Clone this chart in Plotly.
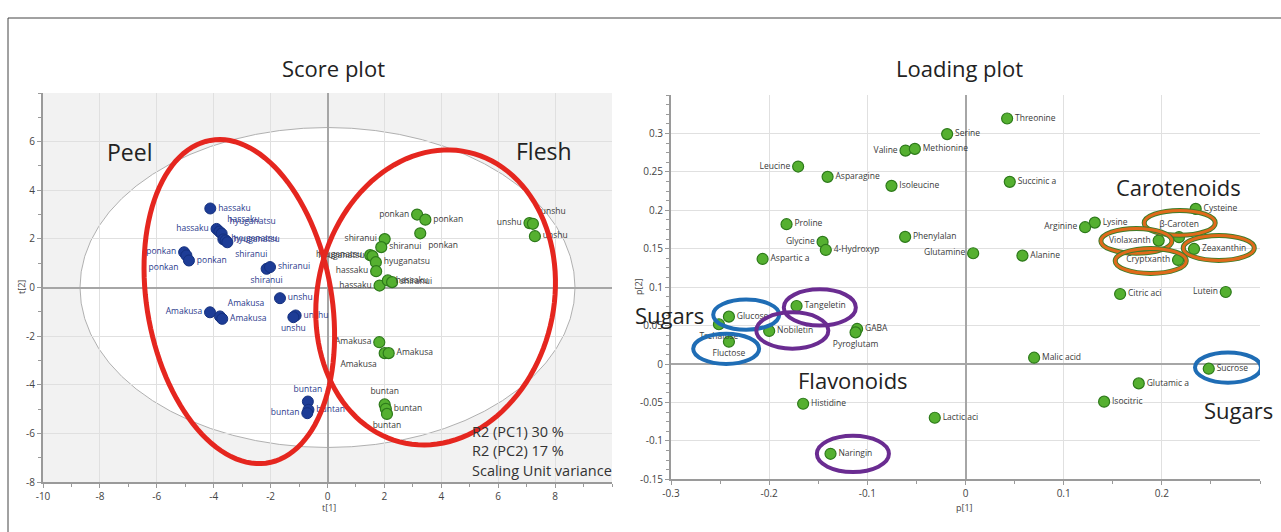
import numpy as np
import plotly.graph_objects as go

W, H = 1281, 532
FONT = "Open Sans"

# ---- score plot, peel samples (blue) ----
peel_names = ["hassaku", "hassaku", "hassaku", "hyuganatsu", "hyuganatsu", "hyuganatsu",
              "shiranui", "shiranui", "shiranui", "ponkan", "ponkan", "ponkan",
              "Amakusa", "Amakusa", "Amakusa", "unshu", "unshu", "unshu",
              "buntan", "buntan", "buntan"]
peel_t1 = [-4.12, -3.90, -3.80, -3.72, -3.66, -3.58, -3.52, -2.14, -2.02,
           -5.04, -4.96, -4.87, -4.13, -3.78, -3.70, -1.67, -1.12, -1.20,
           -0.69, -0.67, -0.71]
peel_t2 = [3.25, 2.41, 2.30, 2.22, 1.98, 1.94, 1.86, 0.77, 0.84,
           1.45, 1.32, 1.11, -1.02, -1.19, -1.29, -0.44, -1.15, -1.22,
           -4.69, -5.03, -5.17]
peel_pos = ["middle right", "middle left", "top right", "top right", "middle right", "middle right",
            "bottom right", "bottom center", "middle right", "middle left", "bottom left", "middle right",
            "middle left", "top right", "middle right", "middle right", "middle right", "bottom center",
            "top center", "middle right", "middle left"]

# ---- score plot, flesh samples (green) ----
flesh_names = ["ponkan", "ponkan", "ponkan", "unshu", "unshu", "unshu",
               "shiranui", "shiranui", "hyuganatsu", "hyuganatsu", "hyuganatsu",
               "hassaku", "hassaku", "hassaku", "shiranui",
               "Amakusa", "Amakusa", "Amakusa", "buntan", "buntan", "buntan"]
flesh_t1 = [3.15, 3.44, 3.26, 7.10, 7.22, 7.29, 2.01, 1.89, 1.50, 1.58, 1.70,
            1.71, 1.83, 2.12, 2.27, 1.82, 2.01, 2.15, 2.01, 2.05, 2.09]
flesh_t2 = [3.00, 2.79, 2.23, 2.65, 2.62, 2.11, 1.99, 1.66, 1.33, 1.29, 1.04,
            0.67, 0.08, 0.29, 0.22, -2.25, -2.70, -2.70, -4.81, -4.99, -5.20]
flesh_pos = ["middle left", "middle right", "bottom right", "middle left", "top right", "middle right",
             "middle left", "middle right", "middle left", "middle left", "middle right",
             "middle left", "middle left", "middle right", "middle right",
             "middle left", "bottom left", "middle right", "top center", "middle right", "bottom center"]

# ---- loading plot ----
load_names = ["Threonine", "Serine", "Valine", "Methionine", "Leucine", "Asparagine",
              "Isoleucine", "Succinic a", "Cysteine", "Proline", "Lysine", "Arginine",
              "β-Caroten", "Phenylalan", "Glycine", "Violaxanth", "4-Hydroxyp", "Zeaxanthin",
              "Glutamine", "Alanine", "Aspartic a", "Cryptxanth", "Lutein", "Citric aci",
              "Tangeletin", "Glucose", "Trehalose", "GABA", "Nobiletin", "Pyroglutam",
              "Fluctose", "Malic acid", "Sucrose", "Glutamic a", "Isocitric", "Histidine",
              "Lactic aci", "Naringin"]
load_p1 = [0.0424, -0.0187, -0.0611, -0.0516, -0.1705, -0.1405,
           -0.0754, 0.0451, 0.2345, -0.1823, 0.1317, 0.1218,
           0.2175, -0.0615, -0.1456, 0.1968, -0.1423, 0.2328,
           0.0078, 0.0580, -0.2067, 0.2165, 0.2651, 0.1575,
           -0.1721, -0.2410, -0.2512, -0.1104, -0.2000, -0.1120,
           -0.2410, 0.0699, 0.2478, 0.1765, 0.1412, -0.1654,
           -0.0313, -0.1375]
load_p2 = [0.3194, 0.2991, 0.2777, 0.2799, 0.2569, 0.2435,
           0.2318, 0.2370, 0.2018, 0.1819, 0.1840, 0.1780,
           0.1650, 0.1654, 0.1589, 0.1606, 0.1484, 0.1497,
           0.1441, 0.1410, 0.1367, 0.1354, 0.0937, 0.0911,
           0.0755, 0.0616, 0.0517, 0.0456, 0.0430, 0.0412,
           0.0290, 0.0082, -0.0061, -0.0252, -0.0490, -0.0517,
           -0.0699, -0.1168]
load_pos = ["middle right", "middle right", "middle left", "middle right", "middle left", "middle right",
            "middle right", "middle right", "middle right", "middle right", "middle right", "middle left",
            "top center", "middle right", "middle left", "middle left", "middle right", "middle right",
            "middle left", "middle right", "middle right", "middle left", "middle left", "middle right",
            "middle right", "middle right", "bottom center", "middle right", "middle right", "bottom center",
            "bottom center", "middle right", "middle right", "middle right", "middle right", "middle right",
            "middle right", "middle right"]

r2_lines = ["R2 (PC1) 30 %", "R2 (PC2) 17 %", "Scaling Unit variance"]

# hand-drawn group rings on the score plot: centre, two conjugate semi-diameters
group_rings = {
    "Peel": ((-3.10, -0.58), (-1.02, 6.63), (3.19, 0.67)),
    "Flesh": ((3.80, -0.41), (1.16, 5.97), (4.05, -1.08)),
}
# highlight rings on the loading plot: centre (p1, p2)
carotenoid_rings = [(0.2182, 0.1836), (0.1741, 0.1602), (0.2580, 0.1510), (0.1887, 0.1341)]
sugar_rings = [(-0.2234, 0.0642), (-0.2438, 0.0198), (0.2674, -0.0046)]
flavonoid_rings = [(-0.1484, 0.0736), (-0.1764, 0.0436), (-0.1147, -0.1169)]


def px(x, y):
    return x / W, 1 - y / H


fig = go.Figure()

fig.add_trace(go.Scatter(
    x=peel_t1, y=peel_t2, mode="markers+text", text=peel_names, textposition=peel_pos,
    marker=dict(size=11, color="#1d3c96", line=dict(width=1, color="#14307e")),
    textfont=dict(size=8.5, color="#2b3a8c", family=FONT), xaxis="x", yaxis="y",
    hoverinfo="skip"))
fig.add_trace(go.Scatter(
    x=flesh_t1, y=flesh_t2, mode="markers+text", text=flesh_names, textposition=flesh_pos,
    marker=dict(size=11, color="#55b030", line=dict(width=1.2, color="#2d7a1a")),
    textfont=dict(size=8.5, color="#3a3a3a", family=FONT), xaxis="x", yaxis="y",
    hoverinfo="skip"))
fig.add_trace(go.Scatter(
    x=load_p1, y=load_p2, mode="markers+text", text=load_names, textposition=load_pos,
    marker=dict(size=11, color="#55b030", line=dict(width=1.2, color="#2d7a1a")),
    textfont=dict(size=8.5, color="#3a3a3a", family=FONT), xaxis="x2", yaxis="y2",
    hoverinfo="skip"))

# axis arrow heads
fig.add_trace(go.Scatter(x=[10.1], y=[-8], mode="markers", xaxis="x", yaxis="y", cliponaxis=False,
                         marker=dict(symbol="triangle-right", size=9, color="#8a8a8a"), hoverinfo="skip"))
fig.add_trace(go.Scatter(x=[-10], y=[8.1], mode="markers", xaxis="x", yaxis="y", cliponaxis=False,
                         marker=dict(symbol="triangle-up", size=9, color="#8a8a8a"), hoverinfo="skip"))
fig.add_trace(go.Scatter(x=[0.303], y=[-0.15], mode="markers", xaxis="x2", yaxis="y2", cliponaxis=False,
                         marker=dict(symbol="triangle-right", size=9, color="#8a8a8a"), hoverinfo="skip"))
fig.add_trace(go.Scatter(x=[-0.3], y=[0.353], mode="markers", xaxis="x2", yaxis="y2", cliponaxis=False,
                         marker=dict(symbol="triangle-up", size=9, color="#8a8a8a"), hoverinfo="skip"))

shapes = []
# grey score-plot background and white Hotelling ellipse
shapes.append(dict(type="rect", xref="x domain", yref="y domain", x0=0, x1=1, y0=0, y1=1,
                   fillcolor="#f2f2f2", line=dict(width=0), layer="below"))
shapes.append(dict(type="circle", xref="x", yref="y", x0=-8.7, x1=8.7, y0=-6.58, y1=6.58,
                   fillcolor="white", line=dict(color="#b0b0b0", width=1), layer="below"))

t = np.linspace(0, 2 * np.pi, 120)
for (cx, cy), (ux, uy), (vx, vy) in group_rings.values():
    xs = cx + ux * np.cos(t) + vx * np.sin(t)
    ys = cy + uy * np.cos(t) + vy * np.sin(t)
    path = "M " + " L ".join(f"{a:.4f},{b:.4f}" for a, b in zip(xs, ys)) + " Z"
    shapes.append(dict(type="path", xref="x", yref="y", path=path,
                       line=dict(color="#e5261f", width=5)))


def ring(c, rx, ry, color, width):
    return dict(type="circle", xref="x2", yref="y2", x0=c[0] - rx, x1=c[0] + rx,
                y0=c[1] - ry, y1=c[1] + ry, line=dict(color=color, width=width))


for c in carotenoid_rings:
    shapes.append(ring(c, 0.0362, 0.0162, "#3f7d2a", 5))
    shapes.append(ring(c, 0.0362, 0.0162, "#e06a1b", 3))
for c in sugar_rings:
    shapes.append(ring(c, 0.0336, 0.0197, "#1f6db5", 4))
for c in flavonoid_rings:
    shapes.append(ring(c, 0.0367, 0.0236, "#6a2c91", 4))

# outer frame (top and left edges)
shapes.append(dict(type="line", xref="paper", yref="paper", x0=8 / W, x1=1, y0=1 - 18 / H, y1=1 - 18 / H,
                   line=dict(color="#444", width=1)))
shapes.append(dict(type="line", xref="paper", yref="paper", x0=8 / W, x1=8 / W, y0=0, y1=1 - 18 / H,
                   line=dict(color="#444", width=1)))

annotations = []


def label(text, x, y, size, xanchor="center", color="#222", **kw):
    xp, yp = px(x, y)
    annotations.append(dict(text=text, x=xp, y=yp, xref="paper", yref="paper", showarrow=False,
                            xanchor=xanchor, yanchor="middle",
                            font=dict(size=size, color=color, family=FONT), **kw))


label("Score plot", 333, 68, 22)
label("Loading plot", 959, 68, 22)
label("Peel", 129, 152, 23)
label("Flesh", 544, 151, 23)
for i, line in enumerate(r2_lines):
    label(line, 470, 431 + 19.5 * i, 14.5, xanchor="left", color="#333")
label("Carotenoids", 1178, 187, 22)
label("Sugars", 669, 315, 22)
label("Sugars", 1238, 410, 22)
label("Flavonoids", 853, 380, 22)
label("t[1]", 329, 507, 9, color="#444")
label("p[1]", 965, 507, 9, color="#444")
label("t[2]", 21, 287, 9, color="#444", textangle=-90)
label("p[2]", 638, 287, 9, color="#444", textangle=-90)


def num(v):
    return f"{v:g}"


axis_common = dict(showgrid=True, gridcolor="#e0e0e0", gridwidth=1,
                   zeroline=True, zerolinecolor="#a6a6a6", zerolinewidth=1.5,
                   showline=True, linecolor="#9a9a9a", linewidth=2,
                   ticks="outside", ticklen=4, tickcolor="#9a9a9a", automargin=False,
                   tickfont=dict(size=10, color="#444", family=FONT), fixedrange=True)

sx_vals = list(range(-10, 10, 2))
sy_vals = list(range(-8, 8, 2))
lx_vals = [-0.3, -0.2, -0.1, 0, 0.1, 0.2]
ly_vals = [-0.15, -0.1, -0.05, 0, 0.05, 0.1, 0.15, 0.2, 0.25, 0.3]

fig.update_layout(
    width=W, height=H, margin=dict(l=0, r=0, t=0, b=0, pad=0, autoexpand=False),
    paper_bgcolor="white", plot_bgcolor="white", showlegend=False,
    xaxis=dict(domain=[43 / W, 612 / W], range=[-10, 10], anchor="y",
               tickmode="array", tickvals=sx_vals, ticktext=[num(v) for v in sx_vals],
               minor=dict(dtick=1, tick0=0, ticks="outside", ticklen=3, tickcolor="#9a9a9a", showgrid=False),
               **axis_common),
    yaxis=dict(domain=[1 - 482 / H, 1 - 93 / H], range=[-8, 8], anchor="x",
               tickmode="array", tickvals=sy_vals, ticktext=[num(v) for v in sy_vals],
               minor=dict(dtick=1, tick0=0, ticks="outside", ticklen=3, tickcolor="#9a9a9a", showgrid=False),
               **axis_common),
    xaxis2=dict(domain=[671 / W, 1260 / W], range=[-0.3, 0.3], anchor="y2",
                tickmode="array", tickvals=lx_vals, ticktext=[num(v) for v in lx_vals],
                minor=dict(dtick=0.05, tick0=0, ticks="outside", ticklen=3, tickcolor="#9a9a9a", showgrid=False),
                **axis_common),
    yaxis2=dict(domain=[1 - 479.3 / H, 1 - 95 / H], range=[-0.15, 0.35], anchor="x2",
                tickmode="array", tickvals=ly_vals, ticktext=[num(v) for v in ly_vals],
                minor=dict(dtick=0.0125, tick0=0, ticks="outside", ticklen=3, tickcolor="#9a9a9a", showgrid=False),
                **axis_common),
    shapes=shapes, annotations=annotations,
)

# drop the default page margin so the figure sits at the window origin
fig.write_html("out.html", config={"displayModeBar": False},
               post_script="document.body.style.margin='0';document.body.style.overflow='hidden';")
